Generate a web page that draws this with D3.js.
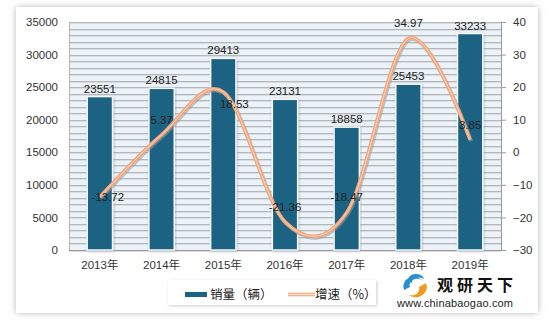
<!DOCTYPE html>
<html><head><meta charset="utf-8">
<script src="https://cdn.jsdelivr.net/npm/d3@7"></script>
<style>body{margin:0;background:#fff;}svg{display:block;}</style>
</head><body>
<svg id="c" width="549" height="322"></svg>
<script>
const categories = ["2013年","2014年","2015年","2016年","2017年","2018年","2019年"];
const sales = [23551,24815,29413,23131,18858,25453,33233];
const growth = [-13.72,5.37,18.53,-21.36,-18.47,34.97,3.85];
const leftTicks = [0,5000,10000,15000,20000,25000,30000,35000];
const rightTicks = [-30,-20,-10,0,10,20,30,40];
const legendLabels = ["销量（辆）","增速（%）"];

const svg = d3.select("#c");
const font = "'Liberation Sans','Noto Sans CJK SC',sans-serif";
const defs = svg.append("defs");
const f = defs.append("filter").attr("id","sh").attr("x","-10%").attr("y","-10%").attr("width","120%").attr("height","120%");
f.append("feDropShadow").attr("dx",0).attr("dy",0).attr("stdDeviation",3).attr("flood-color","#888").attr("flood-opacity",0.6);
const f2 = defs.append("filter").attr("id","sh2").attr("x","-10%").attr("y","-30%").attr("width","120%").attr("height","160%");
f2.append("feDropShadow").attr("dx",1).attr("dy",1).attr("stdDeviation",1.5).attr("flood-color","#999").attr("flood-opacity",0.5);

svg.append("rect").attr("x",16).attr("y",7).attr("width",522).attr("height",306).attr("fill","#fff").attr("filter","url(#sh)");

const L=69,R=501,T=22,B=250;
const x = d3.scaleBand().domain(categories).range([L,R]).paddingInner(0.59).paddingOuter(0.295);
const yL = d3.scaleLinear().domain([0,35000]).range([B,T]);
const yR = d3.scaleLinear().domain([-30,40]).range([B,T]);

// plot background
svg.append("rect").attr("x",L).attr("y",T).attr("width",R-L).attr("height",B-T).attr("fill","#ebf2f8");
// minor gridlines
const grid = d3.range(0,35001,1000);
svg.append("g").selectAll("line").data(grid).join("line")
  .attr("x1",L).attr("x2",R).attr("y1",d=>Math.round(yL(d))+0.5).attr("y2",d=>Math.round(yL(d))+0.5)
  .attr("stroke","#b3b7bc").attr("stroke-width",1);
svg.append("g").selectAll("line").data(grid).join("line")
  .attr("x1",L).attr("x2",R).attr("y1",d=>Math.round(yL(d))+1.5).attr("y2",d=>Math.round(yL(d))+1.5)
  .attr("stroke","#d8dee4").attr("stroke-width",1);
svg.append("line").attr("x1",L+0.5).attr("x2",L+0.5).attr("y1",T).attr("y2",B).attr("stroke","#b0b4b8");

// left axis
const gl = svg.append("g").attr("transform",`translate(${L-11},0)`)
  .call(d3.axisLeft(yL).tickValues(leftTicks).tickFormat(d3.format("d")).tickSize(0).tickPadding(0));
gl.select(".domain").remove();
gl.selectAll("text").attr("font-family",font).attr("font-size",11.5).attr("fill","#333");

// right axis
const gr = svg.append("g").attr("transform",`translate(${R},0)`)
  .call(d3.axisRight(yR).tickValues(rightTicks).tickSize(5).tickPadding(7));
gr.select(".domain").attr("stroke","#999");
gr.selectAll(".tick line").attr("stroke","#999");
gr.selectAll("text").attr("font-family",font).attr("font-size",11.5).attr("fill","#333");

// bottom axis
const gb = svg.append("g").attr("transform",`translate(0,${B})`)
  .call(d3.axisBottom(x).tickSize(0).tickPadding(11));
gb.select(".domain").attr("stroke","#999").attr("d",`M${L},0.5H${R}`);
gb.selectAll("text").attr("font-family",font).attr("font-size",11.5).attr("fill","#333");

// bars
svg.append("g").selectAll("rect").data(sales).join("rect")
  .attr("x",(d,i)=>x(categories[i])).attr("width",x.bandwidth())
  .attr("y",d=>yL(d)).attr("height",d=>B-yL(d))
  .attr("fill","#1b6283").attr("stroke","#f4f8fb").attr("stroke-width",1.5).attr("filter","url(#sh2)");
svg.append("g").selectAll("text").data(sales).join("text")
  .attr("x",(d,i)=>x(categories[i])+x.bandwidth()/2).attr("y",d=>yL(d)-4)
  .attr("text-anchor","middle").attr("font-family",font).attr("font-size",11.5).attr("fill","#222")
  .text(d=>d);

// line
const cx = i => x(categories[i])+x.bandwidth()/2;
const line = d3.line().x((d,i)=>cx(i)).y(d=>yR(d)).curve(d3.curveCatmullRom.alpha(0));
svg.append("path").attr("d",line(growth)).attr("fill","none").attr("stroke","#9a9a9a").attr("stroke-opacity",0.55).attr("stroke-width",4).attr("transform","translate(1,1.5)");
svg.append("path").attr("d",line(growth)).attr("fill","none").attr("stroke","#f3a77e").attr("stroke-width",3.6);
svg.append("path").attr("d",line(growth)).attr("fill","none").attr("stroke","#fbd2bb").attr("stroke-width",1);

const off = [[8,4],[0,-11],[11,16],[0,-11],[0,-11],[0,-11],[0,-11]];
svg.append("g").selectAll("text").data(growth).join("text")
  .attr("x",(d,i)=>cx(i)+off[i][0]).attr("y",(d,i)=>yR(d)+off[i][1])
  .attr("text-anchor","middle").attr("font-family",font).attr("font-size",11.5).attr("fill","#222")
  .text(d=>d.toFixed(2));

// legend
svg.append("rect").attr("x",168).attr("y",280).attr("width",208).attr("height",25).attr("fill","#fff").attr("filter","url(#sh2)");
svg.append("rect").attr("x",185).attr("y",292).attr("width",22).attr("height",5).attr("fill","#1b6283");
svg.append("text").attr("x",210).attr("y",299).attr("font-family","'Noto Sans CJK SC',sans-serif").attr("font-size",12.5).attr("fill","#222").text(legendLabels[0]);
svg.append("line").attr("x1",288).attr("x2",315).attr("y1",294.5).attr("y2",294.5).attr("stroke","#f3a77e").attr("stroke-width",3.6);
svg.append("line").attr("x1",288).attr("x2",315).attr("y1",294.5).attr("y2",294.5).attr("stroke","#fde6d8").attr("stroke-width",1.2);
svg.append("text").attr("x",315).attr("y",299).attr("font-family","'Noto Sans CJK SC',sans-serif").attr("font-size",12.5).attr("fill","#222").text(legendLabels[1]);

// logo
const lg = svg.append("g");
lg.append("path").attr("d","M404,290 A10,9 0 0 1 424,283 A7,6 0 0 0 410,287 Z").attr("fill","#2a8fd0");
lg.append("path").attr("d","M426,283 A10,9 0 0 1 405,291 A7,6 0 0 0 419,287 Z").attr("fill","#f39a1e");
lg.append("path").attr("d","M408,281 A8,6 0 0 1 424,279 A7,5 0 0 0 412,283 Z").attr("fill","#2a8fd0");
lg.append("text").attr("x",437).attr("y",291).attr("font-family","'Noto Sans CJK SC',sans-serif").attr("font-weight","bold").attr("font-size",16).attr("fill","#111").attr("textLength",76).text("观研天下");
lg.append("text").attr("x",397).attr("y",307).attr("font-family","'Liberation Sans',sans-serif").attr("font-size",11).attr("fill","#222").attr("textLength",116).text("www.chinabaogao.com");
</script>
</body></html>
